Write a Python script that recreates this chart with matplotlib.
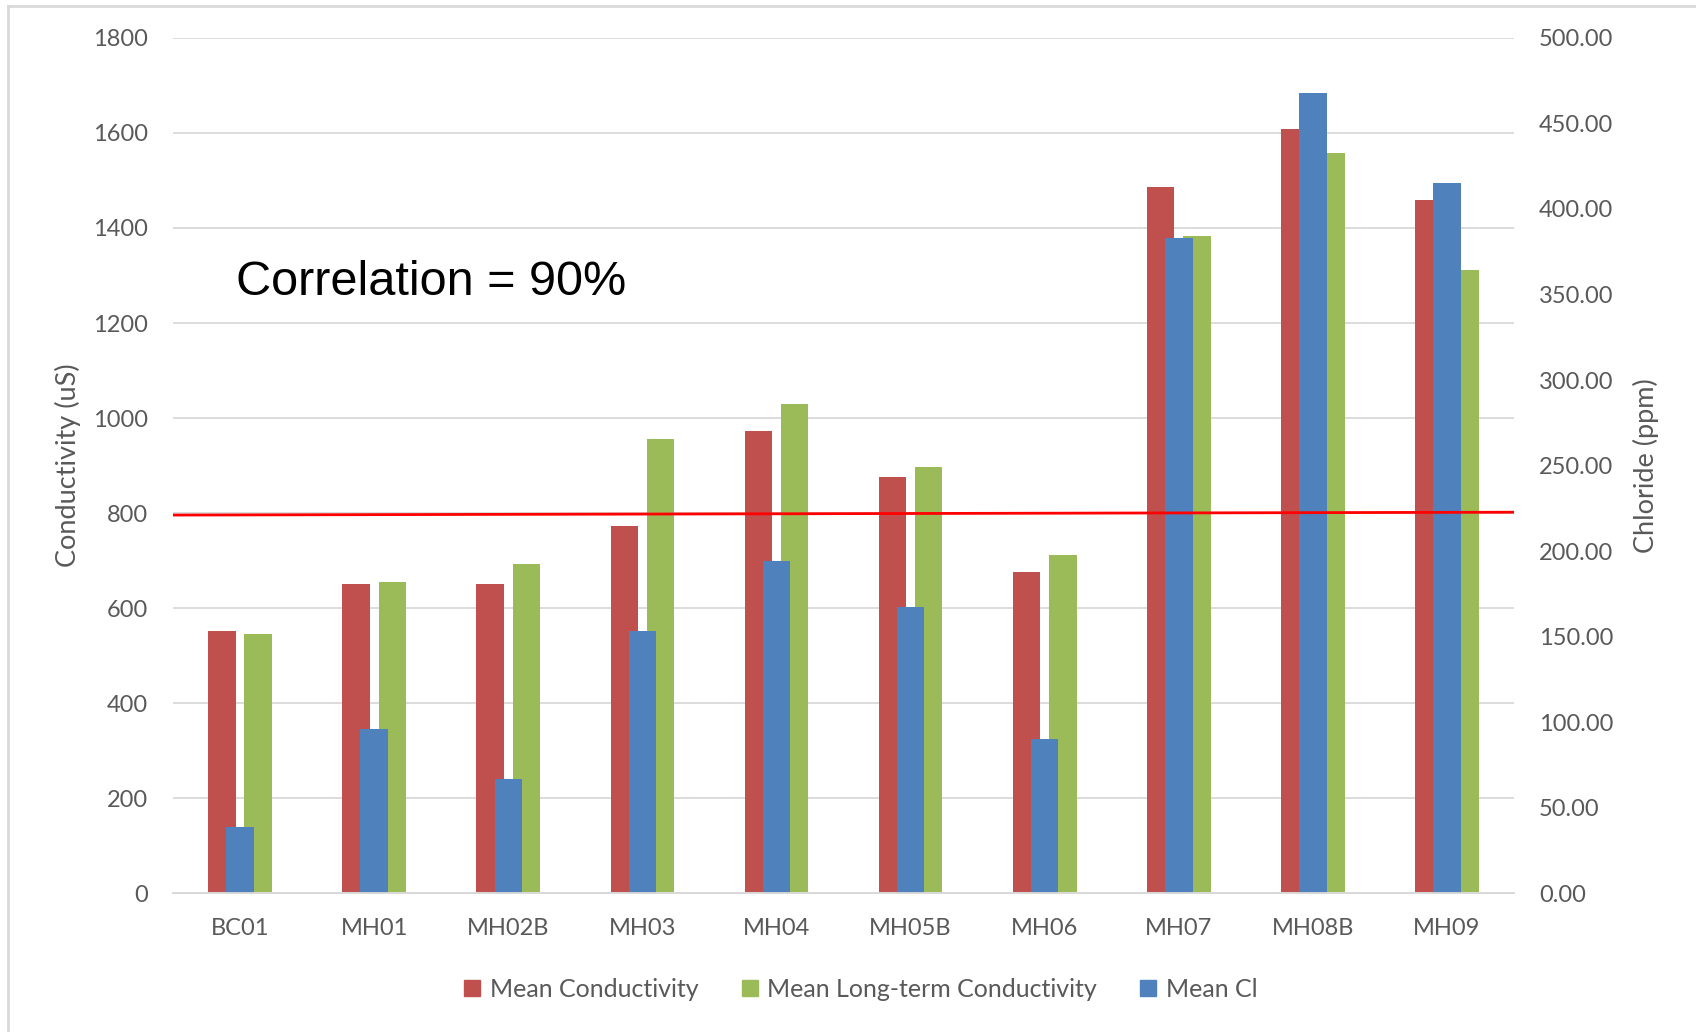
import matplotlib
matplotlib.use("Agg")
import matplotlib.pyplot as plt
from matplotlib.lines import Line2D
import numpy as np

plt.rcParams['font.family'] = ['Lato', 'DejaVu Sans']

COL_COND = "#C0504D"
COL_LONG = "#9BBB59"
COL_CL = "#4F81BD"
COL_TEXT = "#595959"
COL_GRID = "#D9D9D9"

sites = ["BC01", "MH01", "MH02B", "MH03", "MH04", "MH05B", "MH06", "MH07", "MH08B", "MH09"]
mean_cond = [553, 651, 651, 774, 972, 876, 676, 1486, 1609, 1459]
mean_long_cond = [546, 655, 692, 956, 1029, 897, 712, 1384, 1557, 1311]
mean_cl = [38.6, 96, 67, 153.6, 194, 167.5, 90, 383, 468, 415]

# drawn reference line (conductivity units) at left and right ends of the plot
ref_line = [796, 802]

cond_ticks = np.arange(0, 1801, 200)
cl_ticks = np.arange(0, 501, 50)

x = np.arange(len(sites))
w = 0.205
off = 0.135

fig = plt.figure(figsize=(16.96, 10.32), dpi=100)
ax = fig.add_axes([0.102, 0.1343, 0.7907, 0.829])
ax2 = ax.twinx()

ax.bar(x - off, mean_cond, width=w, color=COL_COND, zorder=2)
ax.bar(x + off, mean_long_cond, width=w, color=COL_LONG, zorder=2)
ax2.bar(x, mean_cl, width=w, color=COL_CL, zorder=2)

# reference line sits on top of every bar
ax2.plot([-0.5, 9.5], ref_line, color="#FF0000", lw=2.0, transform=ax.transData, zorder=5)

ax.set_xlim(-0.5, 9.5)
ax.set_ylim(0, 1800)
ax2.set_ylim(0, 500)
ax.set_yticks(cond_ticks)
ax2.set_yticks(cl_ticks)
ax2.set_yticklabels([f"{v:.2f}" for v in cl_ticks])
ax.set_xticks(x)
ax.set_xticklabels(sites)

ax.grid(axis='y', color=COL_GRID, lw=1.3, zorder=0)
ax.set_axisbelow(True)
for a in (ax, ax2):
    for side in ('top', 'left', 'right'):
        a.spines[side].set_visible(False)
    a.spines['bottom'].set_color(COL_GRID)
    a.spines['bottom'].set_linewidth(1.3)
ax.tick_params(axis='both', length=0, labelsize=17, colors=COL_TEXT)
ax.tick_params(axis='y', pad=18)
ax.tick_params(axis='x', pad=18)
ax2.tick_params(axis='y', length=0, labelsize=17, colors=COL_TEXT, pad=18)

ax.set_ylabel("Conductivity (uS)", fontsize=19.5, color=COL_TEXT, va='center')
ax2.set_ylabel("Chloride (ppm)", fontsize=19.5, color=COL_TEXT, rotation=90, va='center')
ax.yaxis.set_label_coords(-0.078, 0.5)
ax2.yaxis.set_label_coords(1.0985, 0.5)

ax.text(0.047, 0.714, "Correlation = 90%", transform=ax.transAxes, fontsize=35,
        family=['Liberation Sans', 'DejaVu Sans'], color="black", va='center', ha='left')

handles = [Line2D([], [], marker='s', ls='', color=c, markersize=11)
           for c in (COL_COND, COL_LONG, COL_CL)]
fig.legend(handles, ["Mean Conductivity", "Mean Long-term Conductivity", "Mean Cl"],
           loc='center', bbox_to_anchor=(0.507, 0.041), ncol=3, frameon=False,
           fontsize=18, labelcolor=COL_TEXT, handletextpad=0.3, columnspacing=1.65,
           handlelength=0.8)

# chart frame edges
fig.add_artist(Line2D([8 / 1696, 8 / 1696], [0, 1 - 6 / 1032], color=COL_GRID, lw=2,
                      transform=fig.transFigure))
fig.add_artist(Line2D([8 / 1696, 1], [1 - 6 / 1032, 1 - 6 / 1032], color=COL_GRID, lw=2,
                      transform=fig.transFigure))

fig.savefig("out.png", dpi=100)
